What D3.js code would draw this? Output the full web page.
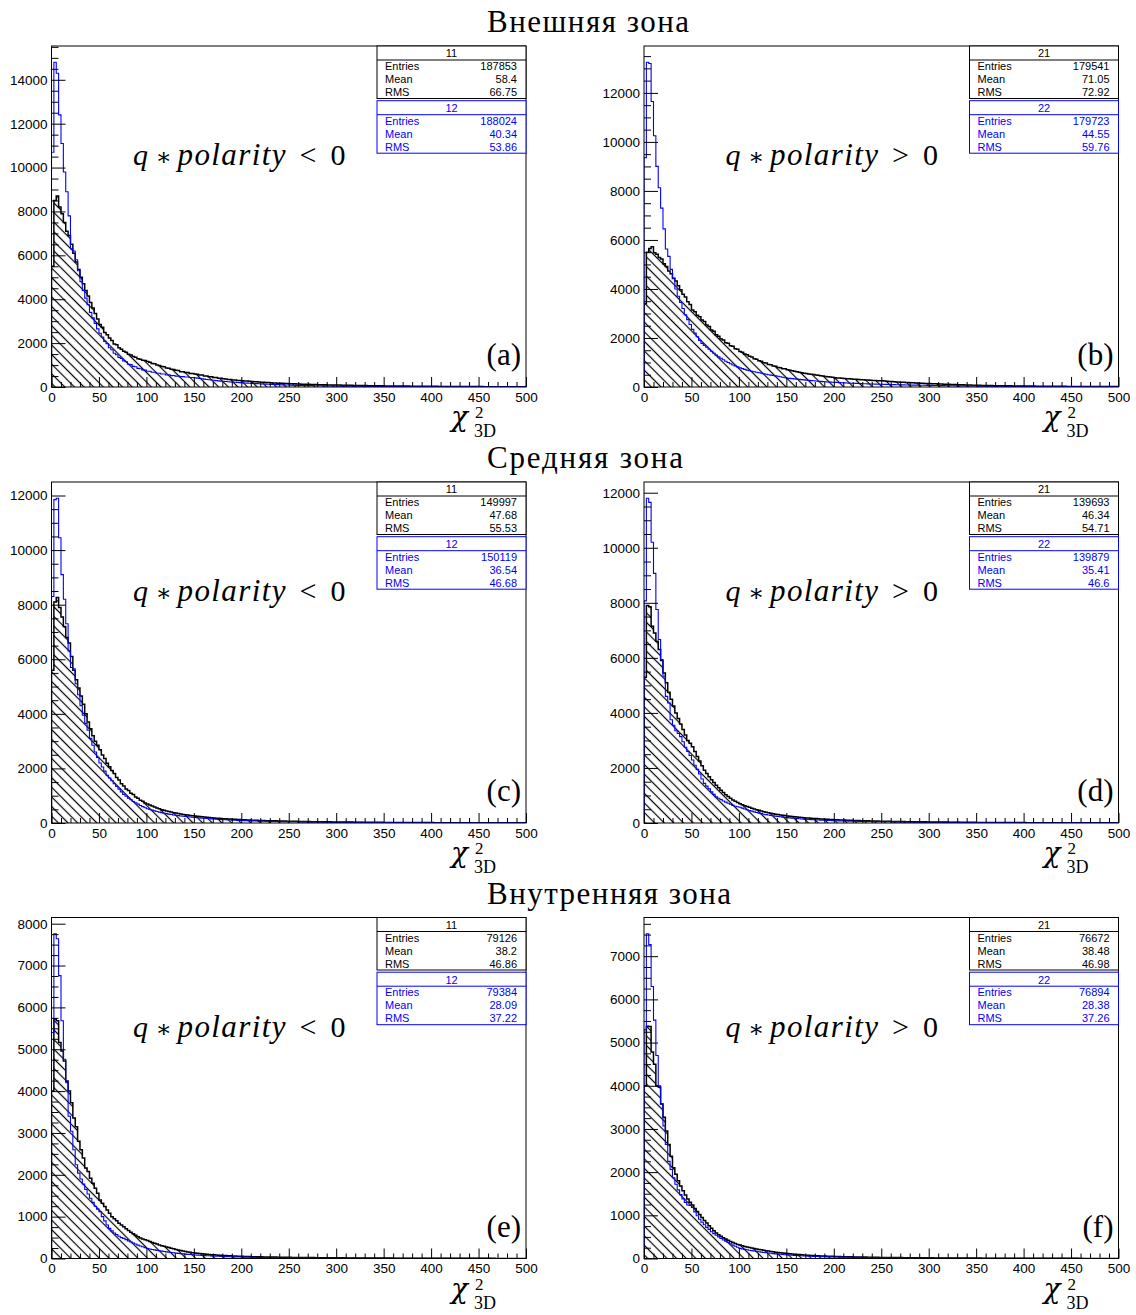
<!DOCTYPE html>
<html><head><meta charset="utf-8">
<script src="https://cdn.jsdelivr.net/npm/d3@7"></script>
<style>body{margin:0;background:#fff}</style>
</head><body>
<svg id="c" width="1136" height="1315" xmlns="http://www.w3.org/2000/svg"></svg>
<script>
// ---------------- DATA ----------------
const binWidth = 2.5;              // chi2 bin width, 200 bins over [0,500]
const xTickValues = [0,50,100,150,200,250,300,350,400,450,500];
const zoneTitles = ["Внешняя зона", "Средняя зона", "Внутренняя зона"];
const panelLabels = ["(a)", "(b)", "(c)", "(d)", "(e)", "(f)"];
const polarityText = ["<", ">", "<", ">", "<", ">"];
const histNames = [["11","12"],["21","22"],["11","12"],["21","22"],["11","12"],["21","22"]];
const statEntries = [["187853","188024"],["179541","179723"],["149997","150119"],["139693","139879"],["79126","79384"],["76672","76894"]];
const statMean = [["58.4","40.34"],["71.05","44.55"],["47.68","36.54"],["46.34","35.41"],["38.2","28.09"],["38.48","28.38"]];
const statRMS = [["66.75","53.86"],["72.92","59.76"],["55.53","46.68"],["54.71","46.6"],["46.86","37.22"],["46.98","37.26"]];
const yMajorStep = [2000,2000,2000,2000,1000,1000];
const yMinorStep = [500,500,500,500,250,250];

// (a) outer zone, q*polarity<0
const hA11 = [
5500,8500,8700,8200,7900,7500,7100,6900,6500,6100,5700,5350,5000,4700,4400,4150,3850,3600,3350,3100,
2850,2720,2480,2380,2230,2120,1960,1920,1790,1720,1630,1580,1490,1460,1390,1360,1290,1270,1220,1210,
1160,1130,1070,1060,1000,980,930,920,870,860,810,800,760,750,700,700,660,660,620,620,
590,585,545,545,505,505,465,465,430,430,400,400,375,370,345,345,320,320,300,300,
290,278,268,260,250,243,235,228,220,212,206,200,193,188,182,176,171,166,160,156,
152,147,143,139,135,131,127,123,120,116,113,110,107,104,101,98,96,94,92,90,
88,86,84,82,80,78,76,74,72,70,68,66,64,62,60,58,57,55,54,52,
50,49,48,47,46,45,44,43,42,41,40,39,38,37,36,35,34,33,32,31,
30,30,29,28,28,27,26,26,25,24,24,23,22,22,21,20,20,19,19,18,
18,18,17,17,16,16,15,15,15,14,14,13,13,13,12,12,12,11,11,10];
const hA12 = [
10700,14800,14300,12400,11100,9800,8900,7800,6300,6200,5800,5300,4800,4400,4050,3750,3400,3150,2900,2650,
2450,2280,2080,1970,1790,1700,1540,1470,1350,1300,1190,1150,1040,1020,940,920,850,830,780,770,
720,715,670,670,630,630,590,590,550,555,520,525,495,495,475,475,455,455,435,435,
420,405,390,375,360,345,330,318,305,292,280,270,260,250,240,230,222,214,206,198,
190,183,176,170,164,158,152,146,140,135,130,125,120,115,110,106,102,98,94,90,
85,82,79,76,73,70,68,66,64,62,60,58,56,54,52,50,48,46,45,44,
42,41,40,39,38,37,36,35,34,33,32,31,30,29,28,27,26,26,25,25,
24,24,23,23,22,22,21,21,20,20,19,19,18,18,17,17,16,16,15,15,
15,14,14,14,13,13,13,12,12,12,11,11,11,10,10,10,10,9,9,9,
9,9,8,8,8,8,7,7,7,7,7,6,6,6,6,6,6,5,5,5];
// (b) outer zone, q*polarity>0
const hB21 = [
3400,5500,5650,5720,5480,5420,5280,5220,5030,4920,4730,4620,4430,4320,4130,3970,3780,3670,3480,3370,
3140,3070,2930,2870,2730,2670,2530,2470,2330,2270,2130,2070,1960,1920,1810,1780,1680,1660,1560,1540,
1450,1420,1350,1320,1250,1220,1150,1130,1070,1050,990,975,920,910,860,850,800,790,745,740,
700,680,660,640,620,600,580,565,550,535,520,505,490,475,460,445,430,418,406,394,
380,372,364,356,348,340,333,326,319,312,305,299,293,287,281,275,270,265,260,255,
250,243,236,229,222,215,209,203,197,191,186,181,176,171,166,161,156,151,147,143,
140,136,132,128,124,120,116,112,108,104,100,97,94,91,88,85,82,79,76,73,
70,68,66,64,62,60,58,56,54,52,50,49,48,47,46,45,44,43,42,41,
40,39,38,37,36,35,34,33,32,31,30,30,29,28,28,27,26,26,25,25,
24,24,23,23,22,22,21,21,20,20,19,19,18,18,18,17,17,16,16,16];
const hB22 = [
9360,13250,13200,11650,10250,9000,8130,7300,6450,5630,5330,4800,4440,4000,3700,3450,3200,2950,2750,2550,
2350,2200,2050,1900,1780,1700,1620,1540,1460,1380,1300,1230,1170,1110,1050,1000,950,900,860,820,
780,750,720,690,660,640,620,600,580,560,540,520,500,485,470,455,440,420,400,380,
360,350,340,330,320,310,300,290,280,270,260,252,244,236,228,220,213,206,200,194,
188,183,178,173,168,163,158,154,150,146,142,138,134,130,127,124,121,118,115,112,
110,107,104,101,98,95,92,90,88,86,84,82,80,78,76,74,72,70,69,68,
67,65,63,61,59,57,55,53,51,49,48,47,46,45,44,43,42,41,40,39,
38,37,36,35,34,33,32,31,30,29,28,28,27,27,26,26,25,25,24,24,
23,23,22,22,21,21,20,20,19,19,18,18,17,17,17,16,16,16,15,15,
15,14,14,14,13,13,13,12,12,12,12,11,11,11,11,10,10,10,10,9];
// (c) middle zone, q*polarity<0
const hC11 = [
5600,8100,8260,7900,7550,7200,6800,6600,6100,5600,5250,4950,4650,4350,4000,3700,3450,3200,3000,2850,
2680,2490,2360,2190,2060,1920,1810,1670,1580,1440,1360,1250,1190,1090,1040,950,910,830,800,730,
700,660,620,585,550,520,490,465,440,420,400,380,362,345,330,316,303,290,278,266,
255,245,235,226,217,208,200,192,185,178,172,166,160,154,148,143,138,133,128,124,
120,116,112,108,105,102,99,96,93,90,87,84,82,80,78,76,74,72,70,68,
66,64,62,60,58,56,54,52,51,50,49,48,47,46,45,44,43,42,41,40,
39,38,37,36,35,34,33,32,31,30,29,28,27,26,26,25,25,24,24,23,
22,22,21,21,20,20,19,19,18,18,17,17,16,16,16,15,15,15,14,14,
14,13,13,13,12,12,12,11,11,11,11,10,10,10,10,9,9,9,9,8,
8,8,8,8,7,7,7,7,7,6,6,6,6,6,6,5,5,5,5,5];
const hC12 = [
8300,11850,11900,10450,9100,8200,7300,6300,5700,5650,5100,4700,4300,3950,3650,3400,3100,2850,2600,2400,
2200,2050,1900,1750,1650,1550,1440,1340,1240,1140,1050,980,910,850,790,740,690,640,600,560,
520,495,470,445,420,400,380,360,342,325,310,295,282,270,258,247,237,228,219,210,
202,194,186,179,172,165,158,152,146,140,134,129,124,119,114,110,106,102,98,94,
90,87,84,81,78,75,72,70,68,66,64,62,60,58,56,54,52,50,49,48,
47,46,45,44,43,42,41,40,39,38,37,36,35,34,33,32,31,30,29,28,
27,26,26,25,25,24,24,23,23,22,22,21,21,20,20,19,19,18,18,17,
17,16,16,16,15,15,15,14,14,14,13,13,13,12,12,12,11,11,11,10,
10,10,10,9,9,9,9,8,8,8,8,7,7,7,7,7,6,6,6,6,
6,6,5,5,5,5,5,5,4,4,4,4,4,4,4,3,3,3,3,3];
// (d) middle zone, q*polarity>0
const hD21 = [
5300,7900,7860,7150,6900,6600,6300,5900,5450,5100,4750,4500,4250,4000,3800,3600,3400,3200,3000,2900,
2770,2600,2420,2250,2080,1920,1800,1680,1570,1470,1370,1280,1190,1110,1030,960,900,840,790,745,
700,665,630,600,570,540,510,485,460,435,410,390,370,352,335,320,305,292,280,268,
256,245,235,225,216,208,200,192,185,178,172,166,160,154,148,143,138,133,128,124,
120,116,112,108,105,102,99,96,93,90,87,84,82,80,78,76,74,72,70,68,
66,64,63,61,59,57,55,53,52,50,49,48,47,46,45,44,43,42,41,40,
39,38,37,36,35,34,33,32,31,30,29,28,28,27,26,25,25,24,24,23,
22,22,21,21,20,20,19,19,18,18,17,17,16,16,16,15,15,15,14,14,
14,13,13,13,12,12,12,11,11,11,11,10,10,10,10,9,9,9,9,8,
8,8,8,8,7,7,7,7,7,6,6,6,6,6,6,5,5,5,5,5];
const hD22 = [
8070,11800,11650,10200,9070,7760,6670,5940,5330,4600,4360,3750,3550,3350,3250,3140,2950,2750,2600,2450,
2290,2100,1950,1780,1600,1440,1340,1240,1130,1040,950,900,850,800,760,720,680,640,610,590,
570,540,510,480,455,430,405,382,360,340,320,305,290,276,262,250,238,226,215,205,
195,186,178,170,162,155,148,141,135,129,123,118,113,108,104,100,96,92,89,86,
83,80,77,74,72,70,68,66,64,62,60,58,56,54,53,52,51,50,49,48,
47,46,45,44,43,42,41,40,39,38,37,36,35,34,33,32,31,30,29,28,
27,26,26,25,25,24,24,23,23,22,22,21,21,20,20,19,19,18,18,17,
17,16,16,16,15,15,15,14,14,14,13,13,13,12,12,12,11,11,11,10,
10,10,10,9,9,9,9,8,8,8,8,7,7,7,7,7,6,6,6,6,
6,6,5,5,5,5,5,5,4,4,4,4,4,4,4,3,3,3,3,3];
// (e) inner zone, q*polarity<0
const hE11 = [
4000,5720,5680,5160,4960,4720,4240,4000,3720,3360,3150,2800,2600,2400,2160,2080,1920,1800,1680,1560,
1400,1320,1240,1160,1080,1000,950,900,840,800,760,710,670,630,590,555,520,490,465,450,
430,405,385,365,345,325,305,290,275,260,245,230,215,202,190,178,167,157,147,138,
130,124,118,112,106,101,96,92,88,84,80,76,73,70,67,64,61,58,56,54,
52,50,48,46,44,42,41,40,39,38,37,36,35,34,33,32,31,30,29,28,
27,26,26,25,24,24,23,22,22,21,21,20,20,19,19,18,18,17,17,16,
16,16,15,15,14,14,14,13,13,13,12,12,12,11,11,11,10,10,10,10,
9,9,9,9,8,8,8,8,7,7,7,7,7,6,6,6,6,6,6,5,
5,5,5,5,5,5,4,4,4,4,4,4,4,4,3,3,3,3,3,3,
3,3,3,3,3,3,3,2,2,2,2,2,2,2,2,2,2,2,2,2];
const hE12 = [
5400,7760,7640,6760,5680,4760,4200,3400,3040,2600,2240,2040,1900,1780,1650,1540,1440,1340,1250,1180,
1120,1000,900,800,720,660,610,570,530,500,480,450,420,395,370,345,320,300,280,260,
240,228,216,205,195,185,176,167,159,151,143,136,129,122,116,110,104,99,94,89,
85,81,77,73,70,67,64,61,58,55,52,50,48,46,44,42,40,38,36,35,
34,33,32,31,30,29,28,27,26,25,24,23,22,21,20,20,19,19,18,18,
17,17,16,16,15,15,14,14,13,13,13,12,12,12,11,11,11,10,10,10,
10,9,9,9,9,8,8,8,8,7,7,7,7,7,6,6,6,6,6,5,
5,5,5,5,5,5,4,4,4,4,4,4,4,4,3,3,3,3,3,3,
3,3,3,3,3,3,2,2,2,2,2,2,2,2,2,2,2,2,2,2,
2,2,2,2,2,1,1,1,1,1,1,1,1,1,1,1,1,1,1,1];
// (f) inner zone, q*polarity>0
const hF21 = [
4000,5380,5370,4780,4500,4000,3970,3580,3270,2950,2640,2370,2100,1950,1800,1680,1570,1470,1380,1300,
1240,1160,1090,1020,950,880,820,760,700,640,590,550,515,480,450,420,395,370,345,325,
310,295,280,268,256,244,232,220,210,200,190,180,171,162,154,146,139,132,125,119,
113,108,103,98,94,90,86,82,78,74,71,68,65,62,60,58,56,54,52,50,
48,46,45,43,42,40,39,38,37,36,35,34,33,32,31,30,29,28,27,26,
25,25,24,23,23,22,22,21,21,20,20,19,19,18,18,17,17,16,16,15,
15,15,14,14,14,13,13,13,12,12,12,11,11,11,10,10,10,10,9,9,
9,9,8,8,8,8,7,7,7,7,7,6,6,6,6,6,6,5,5,5,
5,5,5,5,4,4,4,4,4,4,4,4,3,3,3,3,3,3,3,3,
3,3,3,2,2,2,2,2,2,2,2,2,2,2,2,2,2,2,2,2];
const hF22 = [
5300,7520,7270,6300,5520,4700,4000,3580,3070,2640,2250,2060,1870,1720,1590,1480,1380,1300,1240,1230,
1180,1080,990,910,840,780,720,670,620,575,540,500,465,430,400,370,340,310,285,260,
235,223,212,201,191,182,173,164,156,148,140,133,126,120,114,108,103,98,93,88,
84,80,76,72,69,66,63,60,57,54,52,50,48,46,44,42,40,38,37,36,
35,34,33,32,31,30,29,28,27,26,25,24,23,22,21,21,20,20,19,19,
18,18,17,17,16,16,15,15,14,14,13,13,13,12,12,12,11,11,11,10,
10,10,9,9,9,9,8,8,8,8,7,7,7,7,7,6,6,6,6,6,
5,5,5,5,5,5,4,4,4,4,4,4,4,4,3,3,3,3,3,3,
3,3,3,3,3,3,2,2,2,2,2,2,2,2,2,2,2,2,2,2,
2,2,2,2,2,1,1,1,1,1,1,1,1,1,1,1,1,1,1,1];

const panelSeries = [[hA11,hA12],[hB21,hB22],[hC11,hC12],[hD21,hD22],[hE11,hE12],[hF21,hF22]];

// ---------------- LAYOUT ----------------
const svg = d3.select("#c");
svg.append("rect").attr("width",1136).attr("height",1315).attr("fill","#fff");
const defs = svg.append("defs");
const pat = defs.append("pattern").attr("id","hatch").attr("patternUnits","userSpaceOnUse")
  .attr("width",10).attr("height",6.8).attr("patternTransform","rotate(45)");
pat.append("line").attr("x1",-1).attr("x2",11).attr("y1",3.4).attr("y2",3.4)
  .attr("stroke","#000").attr("stroke-width",1.2);

const rowOffsets = [0, 436, 871.5];
const titleWidths = [202, 196, 244];
const SANS = "'Liberation Sans', Arial, Helvetica, sans-serif";
const SERIF = "'Liberation Serif', 'Times New Roman', serif";

zoneTitles.forEach((t, r) => {
  svg.append("text").attr("x",487).attr("y",32 + rowOffsets[r])
    .attr("font-family",SERIF).attr("font-size",31)
    .attr("textLength",titleWidths[r]).attr("lengthAdjust","spacing")
    .attr("fill","#000").text(t);
});

function statsBox(g, xL, xR, top, name, entries, mean, rms, color) {
  const b = g.append("g");
  b.append("rect").attr("x",xL).attr("y",top).attr("width",xR-xL).attr("height",52.5)
    .attr("fill","#fff").attr("stroke",color).attr("stroke-width",1);
  b.append("line").attr("x1",xL).attr("x2",xR).attr("y1",top+14).attr("y2",top+14)
    .attr("stroke",color).attr("stroke-width",1);
  const tx = (x, y, s, anchor) => b.append("text").attr("x",x).attr("y",y)
    .attr("text-anchor",anchor).attr("font-family",SANS).attr("font-size",11)
    .attr("fill",color).text(s);
  tx((xL+xR)/2, top+11.3, name, "middle");
  [["Entries",entries],["Mean",mean],["RMS",rms]].forEach((row, k) => {
    const yy = top + 24 + k*13;
    tx(xL+8, yy, row[0], "start");
    tx(xR-9, yy, row[1], "end");
  });
}

panelSeries.forEach((series, i) => {
  const col = i % 2, row = Math.floor(i / 2);
  const x0 = col ? 644 : 51.5, x1 = x0 + 474.5;
  const off = rowOffsets[row];
  const T = 46 + off, B = 387 + off;
  const ymax = 1.05 * d3.max(series.flat());
  const x = d3.scaleLinear().domain([0, 500]).range([x0, x1]);
  const y = d3.scaleLinear().domain([0, ymax]).range([B, T]);
  const g = svg.append("g");

  const clipId = "clip" + i;
  defs.append("clipPath").attr("id",clipId).append("rect")
    .attr("x",x0).attr("y",T).attr("width",x1-x0).attr("height",B-T);

  const line = d3.line().x(d => x(d[0])).y(d => y(d[1])).curve(d3.curveStepAfter);
  const pts = h => [[0,0]].concat(h.map((v,k) => [k*binWidth, v]), [[500, h[h.length-1]], [500, 0]]);

  const hg = g.append("g").attr("clip-path", `url(#${clipId})`);
  hg.append("path").attr("d", line(pts(series[0]))).attr("fill","url(#hatch)")
    .attr("stroke","#000").attr("stroke-width",1.5).attr("stroke-linejoin","miter");
  hg.append("path").attr("d", line(pts(series[1]))).attr("fill","none")
    .attr("stroke","#0000ff").attr("stroke-width",1.1);

  // axes
  const yMaj = d3.range(0, ymax, yMajorStep[i]);
  const yMin = d3.range(0, ymax, yMinorStep[i]).filter(v => v % yMajorStep[i] !== 0);
  const xMin = d3.range(0, 500, 10).filter(v => v % 50 !== 0);

  g.append("g").attr("transform",`translate(${x0},0)`)
    .call(d3.axisLeft(y).tickValues(yMaj).tickSize(-14).tickPadding(4).tickFormat(d3.format("d")));
  g.append("g").attr("transform",`translate(${x0},0)`)
    .call(d3.axisLeft(y).tickValues(yMin).tickSize(-7).tickFormat(""));
  g.append("g").attr("transform",`translate(0,${B})`)
    .call(d3.axisBottom(x).tickValues(xTickValues).tickSize(-10).tickPadding(5).tickFormat(d3.format("d")));
  g.append("g").attr("transform",`translate(0,${B})`)
    .call(d3.axisBottom(x).tickValues(xMin).tickSize(-5).tickFormat(""));
  g.selectAll(".domain").remove();
  g.selectAll(".tick line").attr("stroke","#000").attr("stroke-width",1);
  g.selectAll(".tick text").attr("font-family",SANS).attr("font-size",13.5).attr("fill","#000");

  // frame
  g.append("rect").attr("x",x0).attr("y",T).attr("width",x1-x0).attr("height",B-T)
    .attr("fill","none").attr("stroke","#000").attr("stroke-width",1);

  // stats boxes
  statsBox(g, x1-149, x1, T, histNames[i][0], statEntries[i][0], statMean[i][0], statRMS[i][0], "#000");
  statsBox(g, x1-149, x1, T+54.7, histNames[i][1], statEntries[i][1], statMean[i][1], statRMS[i][1], "#0000ff");

  // q * polarity text
  const by = T + 119;
  const ts = (xx, s, opts) => {
    const t = g.append("text").attr("x", x0 + xx).attr("y", by)
      .attr("font-family", opts.fam || SERIF).attr("font-size", opts.size || 30)
      .attr("font-style", opts.italic ? "italic" : "normal").attr("fill","#000").text(s);
    if (opts.len) t.attr("textLength", opts.len).attr("lengthAdjust","spacing");
    return t;
  };
  ts(81.5, "q", {italic:true});
  ts(104, "∗", {fam:"'DejaVu Serif', serif", size:24});
  ts(126, "polarity", {italic:true, size:31, len:108});
  ts(248, polarityText[i], {});
  ts(279, "0", {});

  // panel label
  g.append("text").attr("x", x1-5).attr("y", B-22).attr("text-anchor","end")
    .attr("font-family",SERIF).attr("font-size",31).attr("fill","#000").text(panelLabels[i]);

  // axis title chi^2_3D
  g.append("text").attr("x", x1-75).attr("y", B+39).attr("font-family","'DejaVu Serif', serif")
    .attr("font-style","italic").attr("font-size",28).attr("fill","#000").text("χ");
  g.append("text").attr("x", x1-51).attr("y", B+31).attr("font-family",SERIF)
    .attr("font-size",17).attr("fill","#000").text("2");
  g.append("text").attr("x", x1-52).attr("y", B+50).attr("font-family",SERIF)
    .attr("font-size",18).attr("fill","#000").text("3D");
});
</script>
</body></html>
